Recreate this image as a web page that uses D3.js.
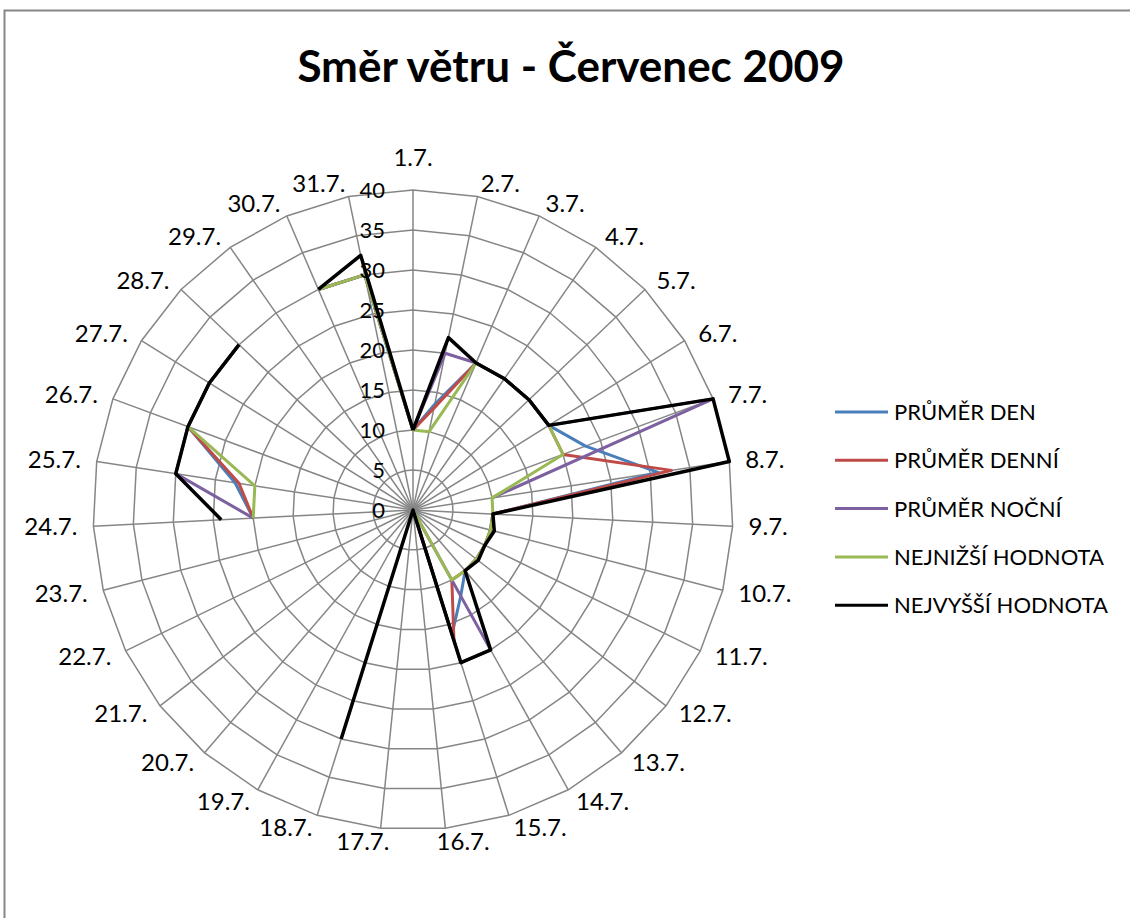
<!DOCTYPE html>
<html>
<head>
<meta charset="utf-8">
<script src="https://cdn.jsdelivr.net/npm/d3@7"></script>
<style>
  html, body { margin: 0; padding: 0; background: #fff; }
  svg { display: block; }
  text { font-family: Lato, "Liberation Sans", sans-serif; fill: #000; }
</style>
</head>
<body>
<svg id="chart" width="1130" height="918"></svg>
<script>
// Wind direction by day, July 2009
const categories = ["1.7.", "2.7.", "3.7.", "4.7.", "5.7.", "6.7.", "7.7.", "8.7.", "9.7.", "10.7.",
  "11.7.", "12.7.", "13.7.", "14.7.", "15.7.", "16.7.", "17.7.", "18.7.", "19.7.", "20.7.",
  "21.7.", "22.7.", "23.7.", "24.7.", "25.7.", "26.7.", "27.7.", "28.7.", "29.7.", "30.7.", "31.7."];

const radialTicks = [0, 5, 10, 15, 20, 25, 30, 35, 40];

// null = no measurement that day (gap in the line)
const prumerDen = [10, 13.5, 20, 20, 20, 20, 23, 31, 10, 10, 10, 10, 10, 12.3, 16.3, 0,
  null, null, null, null, null, null, null, 20, 22.5, 30, 30, 30, null, 30, 30];
const prumerDenni = [10, 13, 20, 20, 20, 20, 20, 32.7, 10, 10, 10, 10, 10, 10, 17.1, 0,
  null, null, null, null, null, null, null, 20, 22, 30, 30, 30, null, 30, 30];
const prumerNocni = [10, 20, 20, 20, 20, 20, 40, 10, null, null, null, null, 0, 20, 20, 0,
  null, null, null, null, null, null, null, 20, 30, 30, 30, 30, null, 30, 30];
const nejnizsi = [10, 10, 20, 20, 20, 20, 20, 10, 10, 10, 10, 10, 10, 10, 0,
  null, null, null, null, null, null, null, null, 20, 20, 30, 30, 30, null, 30, 30];
const nejvyssi = [10, 22, 20, 20, 20, 20, 40, 40, 10, 10.5, 10, 10.3, 10, 20, 20, 0, 0, 30,
  null, null, null, null, null, 24, 30, 30, 30, 30, null, 30, 32.5];

const seriesNames = ["PRŮMĚR DEN", "PRŮMĚR DENNÍ", "PRŮMĚR NOČNÍ", "NEJNIŽŠÍ HODNOTA", "NEJVYŠŠÍ HODNOTA"];
const seriesColors = ["#4A7EBB", "#BE4B48", "#7D60A0", "#98B954", "#000000"];
const seriesValues = [prumerDen, prumerDenni, prumerNocni, nejnizsi, nejvyssi];

const svg = d3.select("#chart");
const cx = 413, cy = 510, R = 320;
const gridColor = "#868686";

// outer frame of the chart object
svg.append("rect")
  .attr("x", 4.5).attr("y", 10.5)
  .attr("width", 1140).attr("height", 930)
  .attr("fill", "#fff")
  .attr("stroke", gridColor).attr("stroke-width", 2);

// title
svg.append("text")
  .attr("x", 571).attr("y", 82)
  .attr("text-anchor", "middle")
  .style("font-weight", "bold")
  .style("font-size", "44px")
  .text("Směr větru - Červenec 2009");

const n = categories.length;
const angle = d3.scaleLinear().domain([0, n]).range([0, 2 * Math.PI]);
const r = d3.scaleLinear().domain([0, 40]).range([0, R]);

const plot = svg.append("g").attr("transform", `translate(${cx},${cy})`);

// polygon gridlines
const ringLine = d3.lineRadial()
  .angle((d, i) => angle(i))
  .radius(d => r(d))
  .curve(d3.curveLinearClosed);
plot.append("g").selectAll("path")
  .data(radialTicks.filter(t => t > 0))
  .join("path")
  .attr("d", t => ringLine(categories.map(() => t)))
  .attr("fill", "none")
  .attr("stroke", gridColor)
  .attr("stroke-width", 1.5);

// spokes
plot.append("g").selectAll("line")
  .data(categories)
  .join("line")
  .attr("x1", 0).attr("y1", 0)
  .attr("x2", (d, i) => r(40) * Math.sin(angle(i)))
  .attr("y2", (d, i) => -r(40) * Math.cos(angle(i)))
  .attr("stroke", gridColor)
  .attr("stroke-width", 1.5);

// series lines; the first day is repeated at the end to close the loop
const seriesLine = d3.lineRadial()
  .defined(d => d.v !== null)
  .angle(d => angle(d.i))
  .radius(d => r(d.v))
  .curve(d3.curveLinear);

plot.append("g").selectAll("path")
  .data(seriesValues)
  .join("path")
  .attr("d", vals => {
    const pts = vals.map((v, i) => ({ i, v }));
    pts.push({ i: n, v: vals[0] });
    return seriesLine(pts);
  })
  .attr("fill", "none")
  .attr("stroke", (d, k) => seriesColors[k])
  .attr("stroke-width", (d, k) => k === 4 ? 3.5 : 3)
  .attr("stroke-linejoin", "round");

// radial value labels along the first spoke
plot.append("g").selectAll("text")
  .data(radialTicks)
  .join("text")
  .attr("x", -28)
  .attr("y", t => -r(t))
  .attr("dy", "0.36em")
  .attr("text-anchor", "end")
  .style("font-size", "22px")
  .text(t => t);

// category labels: side-aligned next to the spoke ends, centred only at the very top
const catLabels = plot.append("g").selectAll("text")
  .data(categories)
  .join("text")
  .attr("text-anchor", "middle")
  .attr("dy", "0.35em")
  .style("font-size", "24px")
  .text(d => d);
catLabels.each(function (d, i) {
  const b = this.getBBox();
  const t = angle(i);
  const s = Math.sin(t), c = Math.cos(t);
  const align = Math.max(-1, Math.min(1, s * 6));
  const x = R * s + s * 16 + align * b.width / 2;
  const lift = c > 0 ? (1 - Math.abs(align)) * c * 19 : 0;
  const y = -R * c - c * 13 - lift;
  d3.select(this).attr("x", x).attr("y", y);
});

// legend
const legend = svg.append("g").attr("transform", "translate(835,412)");
const item = legend.selectAll("g")
  .data(seriesNames)
  .join("g")
  .attr("transform", (d, i) => `translate(0,${i * 48.3})`);
item.append("line")
  .attr("x1", 0).attr("x2", 53)
  .attr("y1", 0).attr("y2", 0)
  .attr("stroke", (d, i) => seriesColors[i])
  .attr("stroke-width", 3);
item.append("text")
  .attr("x", 59)
  .attr("y", 0)
  .attr("dy", "0.36em")
  .style("font-size", "22px")
  .text(d => d);
</script>
</body>
</html>
